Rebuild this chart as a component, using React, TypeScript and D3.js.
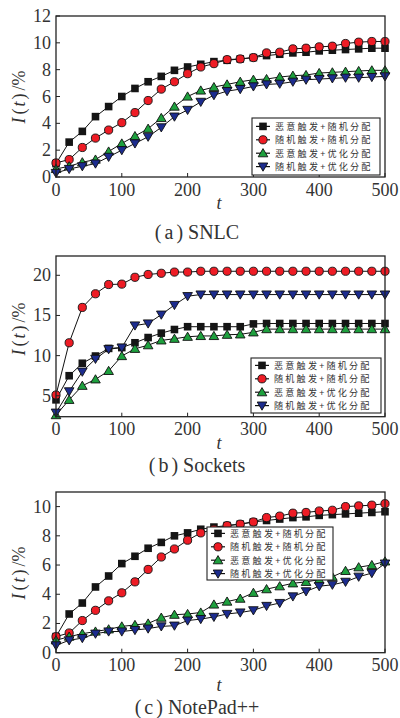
import * as d3 from "d3";

const tSteps = [0, 20, 40, 60, 80, 100, 120, 140, 160, 180, 200, 220, 240, 260, 280, 300, 320, 340, 360, 380, 400, 420, 440, 460, 480, 500];
const xTicks = [0, 100, 200, 300, 400, 500];
const legendLabels = ["恶意触发+随机分配", "随机触发+随机分配", "恶意触发+优化分配", "随机触发+优化分配"];

// (a) SNLC
const snlcMalRand = [1.0, 2.6, 3.4, 4.5, 5.25, 6.0, 6.6, 7.1, 7.5, 7.95, 8.2, 8.4, 8.6, 8.7, 8.8, 8.9, 9.05, 9.15, 9.25, 9.3, 9.4, 9.45, 9.5, 9.55, 9.6, 9.6];
const snlcRandRand = [1.05, 1.3, 2.2, 2.9, 3.5, 4.05, 4.8, 5.7, 6.55, 7.1, 7.7, 8.2, 8.45, 8.75, 8.8, 8.9, 9.25, 9.3, 9.55, 9.6, 9.7, 9.75, 9.95, 10.05, 10.1, 10.1];
const snlcMalOpt = [0.6, 0.8, 1.1, 1.3, 1.9, 2.5, 3.05, 3.6, 4.4, 5.25, 6.0, 6.45, 6.7, 6.9, 7.1, 7.25, 7.3, 7.45, 7.55, 7.6, 7.75, 7.8, 7.85, 7.9, 7.95, 7.95];
const snlcRandOpt = [0.3, 0.6, 0.8, 1.0, 1.5, 2.0, 2.5, 3.0, 3.7, 4.5, 5.0, 5.6, 6.1, 6.4, 6.55, 6.75, 6.9, 6.95, 7.1, 7.25, 7.3, 7.35, 7.4, 7.4, 7.45, 7.5];
const snlcYTicks = [0, 2, 4, 6, 8, 10, 12];

// (b) Sockets
const sockMalRand = [4.5, 7.5, 9.05, 9.95, 10.9, 11.0, 11.6, 12.25, 12.8, 13.25, 13.6, 13.6, 13.6, 13.6, 13.6, 13.95, 14.0, 14.0, 14.0, 14.0, 14.0, 14.0, 14.0, 14.0, 14.0, 14.0];
const sockRandRand = [5.1, 11.6, 16.0, 17.7, 18.85, 18.9, 19.75, 20.1, 20.25, 20.4, 20.4, 20.5, 20.5, 20.5, 20.5, 20.5, 20.5, 20.5, 20.5, 20.5, 20.5, 20.5, 20.5, 20.5, 20.5, 20.5];
const sockMalOpt = [2.6, 4.5, 6.25, 7.05, 8.1, 9.95, 10.85, 11.3, 11.9, 12.1, 12.35, 12.45, 12.45, 12.6, 12.65, 12.9, 13.3, 13.3, 13.3, 13.3, 13.3, 13.3, 13.3, 13.3, 13.3, 13.3];
const sockRandOpt = [2.9, 5.55, 8.0, 9.6, 10.8, 11.0, 13.75, 14.0, 15.1, 16.3, 17.4, 17.6, 17.6, 17.6, 17.6, 17.6, 17.6, 17.6, 17.6, 17.6, 17.6, 17.6, 17.6, 17.6, 17.6, 17.6];
const sockYTicks = [5, 10, 15, 20];

// (c) NotePad++
const npMalRand = [1.1, 2.65, 3.4, 4.5, 5.25, 6.1, 6.6, 7.15, 7.55, 8.0, 8.2, 8.45, 8.6, 8.7, 8.8, 8.95, 9.05, 9.15, 9.25, 9.3, 9.4, 9.45, 9.5, 9.55, 9.6, 9.65];
const npRandRand = [1.1, 1.35, 2.2, 2.9, 3.55, 4.1, 4.85, 5.7, 6.55, 7.1, 7.7, 8.2, 8.45, 8.7, 8.8, 8.95, 9.25, 9.35, 9.55, 9.6, 9.7, 9.75, 10.0, 10.05, 10.1, 10.2];
const npMalOpt = [0.85, 1.1, 1.3, 1.45, 1.6, 1.8, 1.9, 2.0, 2.4, 2.6, 2.65, 2.75, 3.3, 3.5, 3.7, 4.1, 4.35, 4.55, 4.75, 4.85, 5.0, 5.2, 5.6, 5.85, 6.0, 6.25];
const npRandOpt = [0.5, 0.85, 1.0, 1.3, 1.45, 1.45, 1.55, 1.65, 1.8, 1.85, 2.2, 2.3, 2.45, 2.65, 2.75, 2.9, 3.2, 3.4, 3.85, 4.2, 4.55, 4.65, 4.85, 5.2, 5.45, 6.1];
const npYTicks = [0, 2, 4, 6, 8, 10];

const markerFill = ["#151515", "#ee1c25", "#1ea03e", "#1c2c8e"];
const SERIF = "Liberation Serif";
const CJK = "Noto Sans CJK SC";

function Marker({ kind, x, y }: { kind: number; x: number; y: number }) {
  const stroke = "#111";
  if (kind === 0) return <rect x={x - 3.8} y={y - 3.8} width={7.6} height={7.6} fill={markerFill[0]} />;
  if (kind === 1) return <circle cx={x} cy={y} r={4.1} fill={markerFill[1]} stroke={stroke} strokeWidth={0.9} />;
  if (kind === 2)
    return <path d={`M${x},${y - 4.6}L${x + 4.8},${y + 3.6}L${x - 4.8},${y + 3.6}Z`} fill={markerFill[2]} stroke={stroke} strokeWidth={0.9} />;
  return <path d={`M${x},${y + 4.6}L${x + 4.8},${y - 3.6}L${x - 4.8},${y - 3.6}Z`} fill={markerFill[3]} stroke={stroke} strokeWidth={0.9} />;
}

type PanelProps = {
  top: number;
  bottom: number;
  yDomain: [number, number];
  yTicks: number[];
  series: number[][];
  legend: { x: number; y: number; w: number; h: number };
  yLabelY: number;
  tBaseline: number;
  caption: string;
  captionLetter: string;
  captionBaseline: number;
};

function Panel(p: PanelProps) {
  const left = 56;
  const right = 385;
  const x = d3.scaleLinear().domain([0, 500]).range([left, right]);
  const y = d3.scaleLinear().domain(p.yDomain).range([p.bottom, p.top]);
  const line = d3.line<number>().x((_, i) => x(tSteps[i])).y((d) => y(d));
  const lg = p.legend;
  const rowGap = 13.4;
  const row0 = lg.y + lg.h / 2 - 1.5 * rowGap;

  return (
    <g>
      <rect x={left} y={p.top} width={right - left} height={p.bottom - p.top} fill="#fff" />
      {p.series.map((s, k) => (
        <path key={"l" + k} d={line(s) ?? ""} fill="none" stroke="#111" strokeWidth={1} />
      ))}
      {p.series.map((s, k) => (
        <g key={"m" + k}>
          {s.map((v, i) => (
            <Marker key={i} kind={k} x={x(tSteps[i])} y={y(v)} />
          ))}
        </g>
      ))}
      {xTicks.map((t) => (
        <g key={"x" + t}>
          <line x1={x(t)} x2={x(t)} y1={p.bottom} y2={p.bottom - 4} stroke="#222" strokeWidth={1} />
          <text x={x(t)} y={p.bottom + 18.5} textAnchor="middle" fontFamily={SERIF} fontSize={18} fill="#333">
            {t}
          </text>
        </g>
      ))}
      {p.yTicks.map((t) => (
        <g key={"y" + t}>
          <line x1={left} x2={left + 4} y1={y(t)} y2={y(t)} stroke="#222" strokeWidth={1} />
          <text x={left - 5} y={y(t) + 6} textAnchor="end" fontFamily={SERIF} fontSize={18} fill="#333">
            {t}
          </text>
        </g>
      ))}
      <rect x={left} y={p.top} width={right - left} height={p.bottom - p.top} fill="none" stroke="#222" strokeWidth={1.3} />
      <rect x={lg.x} y={lg.y} width={lg.w} height={lg.h} fill="#fff" stroke="#222" strokeWidth={1.1} />
      {legendLabels.map((lab, k) => {
        const ry = row0 + k * rowGap;
        return (
          <g key={"lg" + k}>
            <line x1={lg.x + 4} x2={lg.x + 18} y1={ry} y2={ry} stroke="#111" strokeWidth={1.2} />
            <Marker kind={k} x={lg.x + 11} y={ry} />
            <text x={lg.x + 23} y={ry + 3.3} fontFamily={CJK} fontSize={9.1} letterSpacing={2.2} fill="#333">
              {lab}
            </text>
          </g>
        );
      })}
      <text transform={`translate(25,${p.yLabelY}) rotate(-90)`} textAnchor="middle" fontFamily={SERIF} fontSize={18} fill="#333">
        <tspan fontStyle="italic">I</tspan>
        <tspan dx={3}>(</tspan>
        <tspan dx={2} fontStyle="italic">t</tspan>
        <tspan dx={2}>)</tspan>
        <tspan dx={3}>/%</tspan>
      </text>
      <text x={219} y={p.tBaseline} textAnchor="middle" fontFamily={SERIF} fontStyle="italic" fontSize={18} fill="#333">
        t
      </text>
      <text x={197} y={p.captionBaseline} textAnchor="middle" fontFamily={SERIF} fontSize={20} fill="#333">
        <tspan>(</tspan>
        <tspan dx={3}>{p.captionLetter}</tspan>
        <tspan dx={3}>)</tspan>
        <tspan dx={5}>{p.caption}</tspan>
      </text>
    </g>
  );
}

export default function App() {
  return (
    <svg width={400} height={718} style={{ position: "absolute", left: 0, top: 0, background: "#fff" }}>
      <rect width={400} height={718} fill="#fff" />
      <Panel
        top={16}
        bottom={177}
        yDomain={[0, 12]}
        yTicks={snlcYTicks}
        series={[snlcMalRand, snlcRandRand, snlcMalOpt, snlcRandOpt]}
        legend={{ x: 252, y: 118, w: 128, h: 57 }}
        yLabelY={97}
        tBaseline={209}
        caption="SNLC"
        captionLetter="a"
        captionBaseline={239}
      />
      <Panel
        top={256}
        bottom={416.7}
        yDomain={[2.4, 22.4]}
        yTicks={sockYTicks}
        series={[sockMalRand, sockRandRand, sockMalOpt, sockRandOpt]}
        legend={{ x: 251, y: 358, w: 130, h: 55 }}
        yLabelY={329}
        tBaseline={449}
        caption="Sockets"
        captionLetter="b"
        captionBaseline={472}
      />
      <Panel
        top={492}
        bottom={652.7}
        yDomain={[0, 11]}
        yTicks={npYTicks}
        series={[npMalRand, npRandRand, npMalOpt, npRandOpt]}
        legend={{ x: 207, y: 527, w: 126, h: 53 }}
        yLabelY={573}
        tBaseline={691}
        caption="NotePad++"
        captionLetter="c"
        captionBaseline={714}
      />
    </svg>
  );
}
